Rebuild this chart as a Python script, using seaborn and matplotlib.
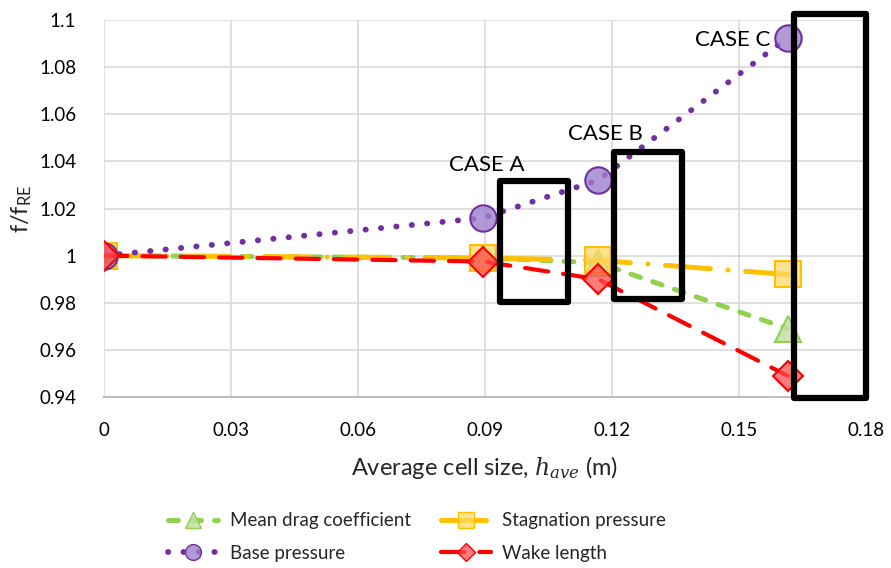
import matplotlib
matplotlib.use("Agg")
import matplotlib.pyplot as plt
import seaborn as sns
import pandas as pd
from matplotlib.patches import Rectangle
from matplotlib.lines import Line2D

sns.set_theme(style="white")
plt.rcParams['font.family'] = ['Lato', 'DejaVu Sans']
plt.rcParams['mathtext.fontset'] = 'dejavuserif'
plt.rcParams['lines.dash_capstyle'] = 'round'
plt.rcParams['lines.solid_capstyle'] = 'round'

# data
h_ave = [0.0, 0.0895, 0.1167, 0.1615]
mean_drag = [1.0, 0.999, 0.997, 0.969]
stagnation = [1.0, 0.999, 0.998, 0.992]
base_pressure = [1.0, 1.016, 1.032, 1.0925]
wake_length = [1.0, 0.9975, 0.990, 0.949]

case_labels = ["CASE A", "CASE B", "CASE C"]
case_label_x = [0.0905, 0.1185, 0.1485]
case_label_y = [1.0385, 1.0515, 1.0915]
box_x0 = [0.0935, 0.1205, 0.163]
box_x1 = [0.1096, 0.1366, 0.180]
box_y0 = [0.9805, 0.9815, 0.9395]
box_y1 = [1.0315, 1.0438, 1.1025]

xticks = [0, 0.03, 0.06, 0.09, 0.12, 0.15, 0.18]
xtick_labels = ["0", "0.03", "0.06", "0.09", "0.12", "0.15", "0.18"]
yticks = [0.94, 0.96, 0.98, 1.0, 1.02, 1.04, 1.06, 1.08, 1.1]
ytick_labels = ["0.94", "0.96", "0.98", "1", "1.02", "1.04", "1.06", "1.08", "1.1"]

fig = plt.figure(figsize=(8.91, 5.68), dpi=100)
ax = fig.add_axes([104/891, 1-397/568, (866-104)/891, (397-20)/568])

series = [
    ("Mean drag coefficient", mean_drag, "#92D050", (0, (2.0, 2.6)), "^", (0.77, 0.88, 0.65, 0.85), 19, 3.6),
    ("Stagnation pressure", stagnation, "#FFC000", (0, (9, 3.5, 0.05, 3.5)), "s", (1.0, 0.85, 0.40, 0.75), 19, 3.6),
    ("Base pressure", base_pressure, "#7030A0", (0, (0.05, 2.6)), "o", (0.62, 0.50, 0.80, 0.8), 19, 4.2),
    ("Wake length", wake_length, "#FF0000", (0, (5.6, 3.6)), "D", (1.0, 0.30, 0.30, 0.75), 15, 3.0),
]

handles = []
for i, (name, vals, col, ls, mk, fc, ms, lw) in enumerate(series):
    df = pd.DataFrame({"x": h_ave, "y": vals})
    sns.lineplot(data=df, x="x", y="y", ax=ax, color=col, linestyle=ls,
                 linewidth=lw, marker=mk, markersize=ms, markerfacecolor=fc,
                 markeredgecolor=col, markeredgewidth=1.5, zorder=3 + i,
                 solid_capstyle='round', dash_capstyle='round')
    handles.append(Line2D([], [], color=col, linestyle=ls, linewidth=lw, marker=mk,
                          markersize=ms * 0.6, markerfacecolor=fc, markeredgecolor=col,
                          dash_capstyle='round', label=name))

for x0, x1, y0, y1 in zip(box_x0, box_x1, box_y0, box_y1):
    ax.add_patch(Rectangle((x0, y0), x1 - x0, y1 - y0, fill=False, edgecolor="black",
                           linewidth=4.5, zorder=10, clip_on=False, joinstyle='round'))

for lab, lx, ly in zip(case_labels, case_label_x, case_label_y):
    ax.text(lx, ly, lab, fontsize=16, ha="center", va="center", color="black", zorder=11)

ax.set_xlim(0, 0.18)
ax.set_ylim(0.94, 1.1)
ax.set_xticks(xticks)
ax.set_xticklabels(xtick_labels)
ax.set_yticks(yticks)
ax.set_yticklabels(ytick_labels)
ax.tick_params(axis='both', labelsize=13.5, length=0, colors='black')
ax.tick_params(axis='x', pad=18)
ax.tick_params(axis='y', pad=20)
ax.grid(True, color="#D9D9D9", linewidth=1.2)
for s in ["top", "right", "left"]:
    ax.spines[s].set_visible(False)
ax.spines["bottom"].set_color("#BFBFBF")
ax.spines["bottom"].set_linewidth(1.5)

ax.set_xlabel("Average cell size, $h_{ave}$ (m)", fontsize=17, labelpad=11)
ax.set_ylabel("f/f$_\\mathregular{RE}$", fontsize=17, labelpad=4)

leg_handles = [handles[0], handles[2], handles[1], handles[3]]
fig.legend(handles=leg_handles, loc="center", bbox_to_anchor=(0.468, 0.0545), ncol=2,
           frameon=False, fontsize=13.5, handlelength=2.7, handletextpad=0.6,
           columnspacing=1.6, labelspacing=0.85, numpoints=1)

fig.savefig("out.png", dpi=100)
